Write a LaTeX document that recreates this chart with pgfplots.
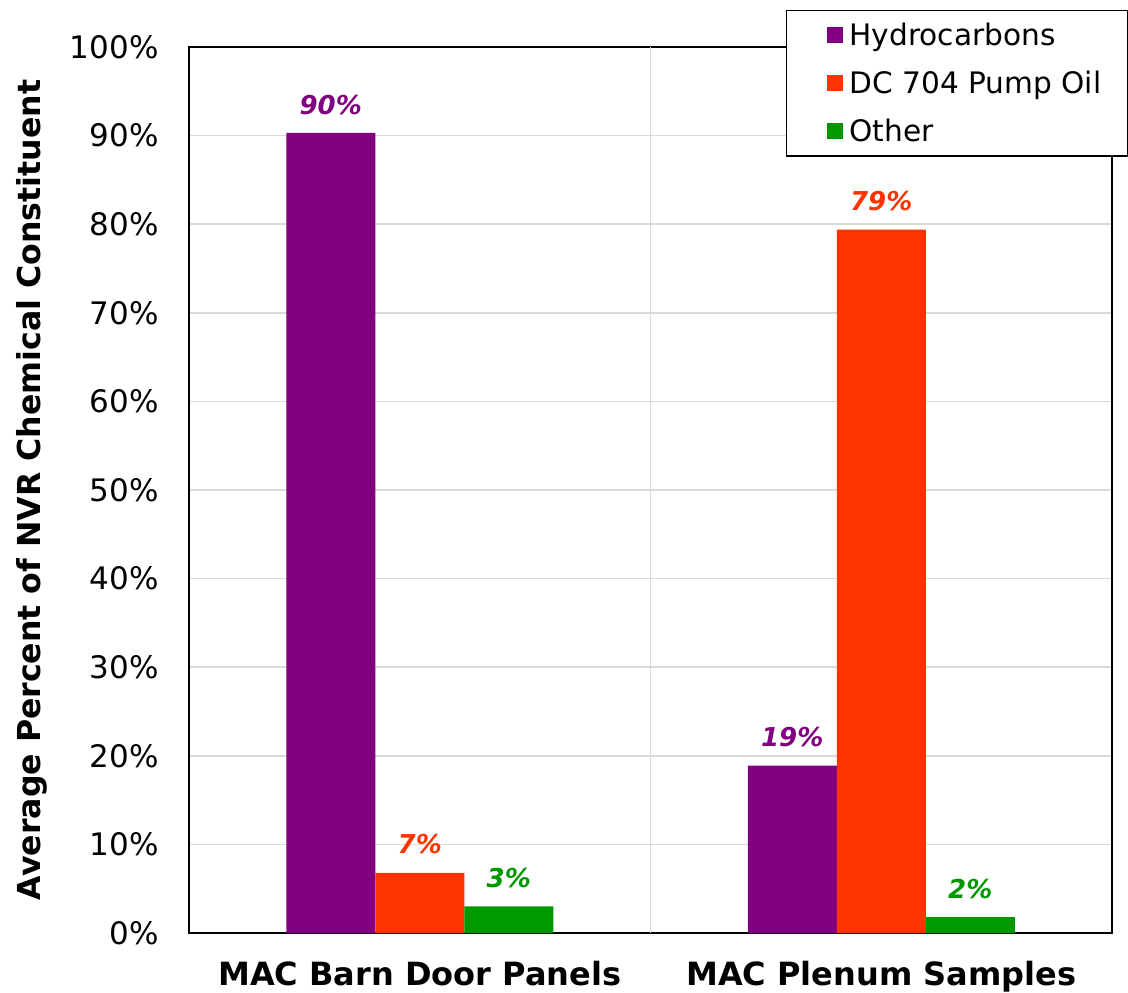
\documentclass[border=0pt]{standalone}
\usepackage{pgfplots}
\pgfplotsset{compat=1.18}
\usepackage{fontspec}
\setmainfont{DejaVu Sans}[ItalicFont=DejaVu Sans Oblique, BoldFont=DejaVu Sans Bold, BoldItalicFont=DejaVu Sans Bold Oblique]
\definecolor{cHyd}{HTML}{800080}
\definecolor{cDC}{HTML}{FF3300}
\definecolor{cOth}{HTML}{009900}
\definecolor{cGrid}{HTML}{D9D9D9}
\begin{document}
\begin{tikzpicture}
\begin{axis}[
  name=ax,
  scale only axis,
  width=461.5pt, height=443pt,
  xmin=-0.5, xmax=1.5,
  ymin=0, ymax=100,
  xtick={0,1},
  xticklabels={MAC Barn Door Panels, MAC Plenum Samples},
  xticklabel style={font=\fontsize{16}{19}\selectfont\bfseries, inner sep=0pt, yshift=-14pt},
  extra x ticks={0.5},
  extra x tick labels={},
  extra x tick style={grid=major, major grid style={cGrid, line width=0.75pt}, major tick length=0pt},
  ytick={0,10,...,100},
  yticklabels={0\%,10\%,20\%,30\%,40\%,50\%,60\%,70\%,80\%,90\%,100\%},
  yticklabel style={font=\fontsize{15.5}{18}\selectfont, inner sep=0pt, xshift=-15pt},
  major tick length=0pt,
  ymajorgrids,
  major grid style={cGrid, line width=0.75pt},
  axis line style={black, line width=1pt},
  ylabel={Average Percent of NVR Chemical Constituent},
  ylabel style={font=\fontsize{15.8}{18}\selectfont\bfseries, at={(axis description cs:-0.170,0.5)}, anchor=center},
  ybar, bar width=44.5pt,
  nodes near coords={\pgfmathprintnumber[assume math mode=true,fixed,precision=0]{\pgfplotspointmeta}\%},
  nodes near coords style={font=\fontsize{13}{15}\selectfont\bfseries\itshape, inner sep=0pt, anchor=south, yshift=9pt},
  legend cell align=left,
  legend image code/.code={\path (0pt,0pt) (18.5pt,0pt); \fill[#1] (9pt,-4pt) rectangle (17pt,4pt);},
  legend style={at={(rel axis cs:1,1)}, anchor=north east, xshift=8pt, yshift=18.5pt,
    draw=black, line width=0.75pt, fill=white,
    font=\fontsize{14.8}{17}\selectfont,
    inner xsep=11pt, inner ysep=4pt, row sep=7.2pt},
]
\addplot[fill=cHyd, draw=none, bar shift=-44.5pt, nodes near coords style={text=cHyd}] coordinates {(0,90.3) (1,18.9)};
\addplot[fill=cDC, draw=none, bar shift=0pt, nodes near coords style={text=cDC}] coordinates {(0,6.8) (1,79.4)};
\addplot[fill=cOth, draw=none, bar shift=44.5pt, nodes near coords style={text=cOth}] coordinates {(0,3.0) (1,1.8)};
\legend{Hydrocarbons, DC 704 Pump Oil, Other}
\end{axis}
\pgfresetboundingbox
\path (ax.south west) ++(-94.5pt,-29.5pt) rectangle ++(564pt,496pt);
\end{tikzpicture}
\end{document}
